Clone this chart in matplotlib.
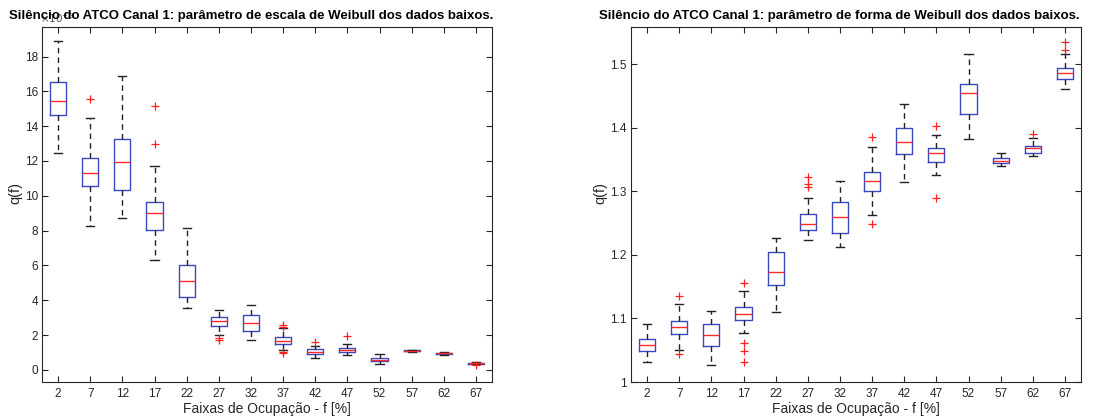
import matplotlib
matplotlib.use("Agg")
import matplotlib.pyplot as plt

plt.rcParams['font.family'] = ['Liberation Sans', 'DejaVu Sans']

labels = ['2', '7', '12', '17', '22', '27', '32', '37', '42', '47', '52', '57', '62', '67']

# Left panel: Weibull scale parameter (x10^-3)
esc_whislo = [12.45, 8.28, 8.70, 6.30, 3.56, 2.01, 1.71, 1.15, 0.67, 0.84, 0.34, 1.05, 0.86, 0.32]
esc_q1     = [14.64, 10.56, 10.33, 8.05, 4.20, 2.51, 2.24, 1.49, 0.90, 1.03, 0.50, 1.08, 0.92, 0.35]
esc_med    = [15.42, 11.32, 11.92, 8.99, 5.10, 2.82, 2.70, 1.63, 1.03, 1.15, 0.57, 1.10, 0.95, 0.38]
esc_q3     = [16.53, 12.20, 13.28, 9.66, 6.00, 3.03, 3.14, 1.88, 1.17, 1.25, 0.69, 1.12, 0.99, 0.42]
esc_whishi = [18.87, 14.46, 16.90, 11.69, 8.14, 3.43, 3.72, 2.39, 1.38, 1.49, 0.92, 1.15, 1.02, 0.44]
esc_fliers = [[], [15.57], [], [15.17, 12.97], [], [1.71, 1.80], [], [2.59, 2.45, 0.94, 1.05],
              [1.59], [1.94], [], [], [], [0.26]]

# Right panel: Weibull shape parameter
for_whislo = [1.031, 1.050, 1.026, 1.077, 1.110, 1.224, 1.212, 1.263, 1.315, 1.325, 1.382, 1.340, 1.356, 1.461]
for_q1     = [1.049, 1.076, 1.057, 1.097, 1.153, 1.239, 1.235, 1.301, 1.359, 1.346, 1.422, 1.345, 1.361, 1.476]
for_med    = [1.059, 1.086, 1.074, 1.107, 1.173, 1.249, 1.260, 1.317, 1.377, 1.360, 1.454, 1.348, 1.368, 1.486]
for_q3     = [1.068, 1.096, 1.091, 1.118, 1.204, 1.265, 1.283, 1.330, 1.399, 1.368, 1.469, 1.352, 1.372, 1.494]
for_whishi = [1.092, 1.123, 1.112, 1.143, 1.226, 1.290, 1.317, 1.369, 1.437, 1.389, 1.516, 1.360, 1.384, 1.516]
for_fliers = [[], [1.136, 1.044], [], [1.156, 1.062, 1.049, 1.031], [], [1.323, 1.311, 1.307], [],
              [1.386, 1.248], [], [1.403, 1.290], [], [], [1.390], [1.535, 1.522]]

titles = ['Silêncio do ATCO Canal 1: parâmetro de escala de Weibull dos dados baixos.',
          'Silêncio do ATCO Canal 1: parâmetro de forma de Weibull dos dados baixos.']
xlabel = 'Faixas de Ocupação - f [%]'
ylabel = 'q(f)'

W, H = 1119, 419
fig = plt.figure(figsize=(W / 100, H / 100), dpi=100)

def px_axes(x0, y0, x1, y1):
    return fig.add_axes([x0 / W, 1 - y1 / H, (x1 - x0) / W, (y1 - y0) / H])

ax1 = px_axes(42, 27, 492, 382)
ax2 = px_axes(631, 27, 1081, 382)

box_c = '#3848c0'
med_c = '#ff2a2a'

def draw(ax, wl, q1, med, q3, wh, fl, ylab_x):
    stats = []
    for i in range(len(labels)):
        stats.append(dict(whislo=wl[i], q1=q1[i], med=med[i], q3=q3[i], whishi=wh[i], fliers=fl[i], label=labels[i]))
    ax.bxp(stats, positions=range(1, len(labels) + 1), widths=0.5, capwidths=0.25,
           boxprops=dict(color=box_c, linewidth=1.0),
           medianprops=dict(color=med_c, linewidth=1.0),
           whiskerprops=dict(color='#222222', linestyle=(0, (4, 3)), linewidth=1.0),
           capprops=dict(color='#222222', linewidth=1.0),
           flierprops=dict(marker='+', markeredgecolor='#ff2020', markersize=6, markeredgewidth=0.9, linestyle='none'))
    ax.set_xlim(0.5, 14.5)
    ax.set_xticks(range(1, len(labels) + 1))
    ax.set_xticklabels(labels)
    ax.tick_params(direction='in', top=True, right=True, length=4, width=0.8, labelsize=8.5,
                   colors='#262626')
    ax.tick_params(axis='x', pad=4.5)
    ax.tick_params(axis='y', pad=3)
    for s in ax.spines.values():
        s.set_color('#262626')
        s.set_linewidth(0.8)
    ax.set_xlabel(xlabel, fontsize=10, color='#262626', labelpad=1)
    ax.set_ylabel(ylabel, fontsize=10.5, color='#262626')
    ax.yaxis.set_label_coords(ylab_x, 0.532)

draw(ax1, esc_whislo, esc_q1, esc_med, esc_q3, esc_whishi, esc_fliers, -0.044)
ax1.set_ylim(-0.7, 19.7)
ax1.set_yticks(range(0, 20, 2))
ax1.text(-0.005, 1.005, r'$\times10^{-3}$', transform=ax1.transAxes, fontsize=7.5, color='#555555',
         ha='left', va='bottom', zorder=2)
ax1.set_title(titles[0], fontsize=9.5, fontweight='bold', x=0.464, pad=6, zorder=5)

draw(ax2, for_whislo, for_q1, for_med, for_q3, for_whishi, for_fliers, -0.053)
ax2.set_ylim(1.0, 1.5586)
ax2.set_yticks([1.0, 1.1, 1.2, 1.3, 1.4, 1.5])
ax2.set_yticklabels(['1', '1.1', '1.2', '1.3', '1.4', '1.5'])
ax2.set_title(titles[1], fontsize=9.5, fontweight='bold', x=0.464, pad=6, zorder=5)

fig.savefig('out.png', dpi=100)
